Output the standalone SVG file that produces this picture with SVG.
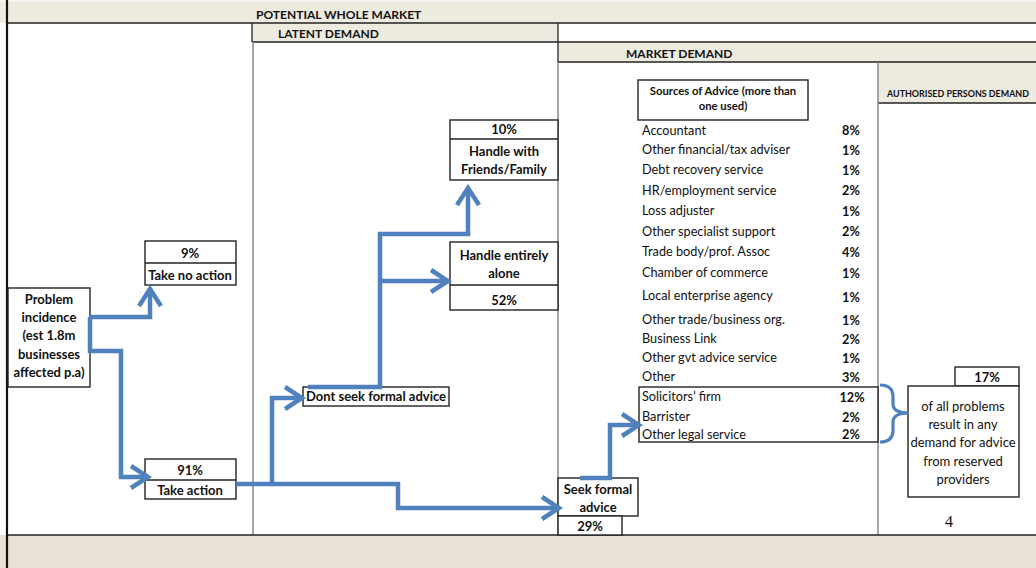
<svg xmlns="http://www.w3.org/2000/svg" width="1036" height="568" viewBox="0 0 1036 568">
<style>
.band{fill:#EDEAE0}
.grid{stroke:#222;stroke-width:1.3;fill:none}
.vg{stroke:#888;stroke-width:1.5}
.box{fill:#fff;stroke:#222;stroke-width:1.4}
.hb{font-family:Lato,"Liberation Sans",sans-serif;font-weight:bold;font-size:12px;fill:#111}
.b{font-family:Lato,"Liberation Sans",sans-serif;font-weight:bold;font-size:13px;fill:#111;text-anchor:middle}
.l{font-family:Lato,"Liberation Sans",sans-serif;font-size:12.7px;fill:#111}
.p{font-family:Lato,"Liberation Sans",sans-serif;font-weight:bold;font-size:12.7px;fill:#111;text-anchor:middle}
.c{font-family:Lato,"Liberation Sans",sans-serif;font-size:13px;fill:#111;text-anchor:middle}
.conn{fill:none;stroke:#4F81BD;stroke-width:4.5;stroke-linejoin:miter}
</style>
<defs>
<marker id="chev" viewBox="0 0 24 26" refX="21" refY="13" markerWidth="24" markerHeight="26" markerUnits="userSpaceOnUse" orient="auto">
<path d="M3,2 L20,13 L3,24" fill="none" stroke="#4F81BD" stroke-width="4.5"/>
</marker>
</defs>
<rect x="0" y="0" width="1036" height="568" fill="#fff"/>
<g id="frame">
<rect x="0" y="0" width="1036" height="23" class="band"/>
<rect x="0" y="0" width="1036" height="2" fill="#F4F3EF"/>
<rect x="252" y="23" width="306" height="19" class="band"/>
<rect x="558" y="42" width="478" height="20" class="band"/>
<rect x="878" y="62" width="158" height="41" class="band"/>
<rect x="0" y="535" width="1036" height="33" fill="#E8E1D4"/>
<line x1="7" y1="23" x2="1036" y2="23" class="grid"/>
<line x1="252" y1="42" x2="1036" y2="42" class="grid"/>
<line x1="558" y1="62" x2="1036" y2="62" class="grid"/>
<line x1="878" y1="103" x2="1036" y2="103" class="grid"/>
<line x1="252" y1="23" x2="252" y2="42" class="grid"/>
<line x1="558" y1="23" x2="558" y2="62" class="grid"/>
<line x1="253" y1="42" x2="253" y2="535" class="vg"/>
<line x1="558" y1="62" x2="558" y2="535" class="vg"/>
<line x1="878" y1="62" x2="878" y2="535" class="vg"/>
<line x1="7" y1="535" x2="1036" y2="535" class="grid" stroke-width="1.6"/>
<line x1="7" y1="0" x2="7" y2="568" stroke="#111" stroke-width="2.2"/>
<text x="256" y="19" class="hb">POTENTIAL WHOLE MARKET</text>
<text x="278" y="38" class="hb">LATENT DEMAND</text>
<text x="626" y="58" class="hb">MARKET DEMAND</text>
<text x="887" y="97" class="hb" style="font-size:8.8px" textLength="142" lengthAdjust="spacingAndGlyphs">AUTHORISED PERSONS DEMAND</text>
</g>
<g id="problem">
<rect x="8" y="288" width="82" height="99" class="box"/>
<text class="b" x="49" y="304">Problem</text>
<text class="b" x="49" y="322">incidence</text>
<text class="b" x="49" y="340">(est 1.8m</text>
<text class="b" x="49" y="359">businesses</text>
<text class="b" x="49" y="377">affected p.a)</text>
</g>
<g id="noaction">
<rect x="145" y="241" width="91" height="44" class="box"/>
<line x1="145" y1="263" x2="236" y2="263" class="grid"/>
<text class="b" x="190" y="258">9%</text>
<text class="b" x="190" y="280">Take no action</text>
</g>
<g id="takeaction">
<rect x="145" y="459" width="91" height="40" class="box"/>
<line x1="145" y1="480" x2="236" y2="480" class="grid"/>
<text class="b" x="190" y="475">91%</text>
<text class="b" x="190" y="495">Take action</text>
</g>
<g id="dontseek">
<rect x="303" y="387" width="146" height="19" class="box"/>
<text class="b" x="376" y="401">Dont seek formal advice</text>
</g>
<g id="friends">
<rect x="450" y="120" width="108" height="60" class="box"/>
<line x1="450" y1="139" x2="558" y2="139" class="grid"/>
<text class="b" x="504" y="134">10%</text>
<text class="b" x="504" y="156">Handle with</text>
<text class="b" x="504" y="174">Friends/Family</text>
</g>
<g id="alone">
<rect x="450" y="242" width="108" height="68" class="box"/>
<line x1="450" y1="285" x2="558" y2="285" class="grid"/>
<text class="b" x="504" y="260">Handle entirely</text>
<text class="b" x="504" y="278">alone</text>
<text class="b" x="504" y="305">52%</text>
</g>
<g id="seek">
<rect x="558" y="478" width="80" height="38" class="box"/>
<rect x="558" y="516" width="64" height="19" class="box"/>
<text class="b" x="598" y="494">Seek formal</text>
<text class="b" x="598" y="512">advice</text>
<text class="b" x="590" y="531">29%</text>
</g>
<g id="sources">
<rect x="638" y="80" width="170" height="40" class="box"/>
<text class="b" x="723" y="95" style="font-size:11.3px">Sources of Advice (more than</text>
<text class="b" x="723" y="110" style="font-size:11.3px">one used)</text>
<text class="l" x="642" y="135">Accountant</text><text class="p" x="851" y="135">8%</text>
<text class="l" x="642" y="154">Other financial/tax adviser</text><text class="p" x="851" y="155">1%</text>
<text class="l" x="642" y="174">Debt recovery service</text><text class="p" x="851" y="175">1%</text>
<text class="l" x="642" y="195">HR/employment service</text><text class="p" x="851" y="195">2%</text>
<text class="l" x="642" y="215">Loss adjuster</text><text class="p" x="851" y="216">1%</text>
<text class="l" x="642" y="236">Other specialist support</text><text class="p" x="851" y="236">2%</text>
<text class="l" x="642" y="256">Trade body/prof. Assoc</text><text class="p" x="851" y="257">4%</text>
<text class="l" x="642" y="277">Chamber of commerce</text><text class="p" x="851" y="278">1%</text>
<text class="l" x="642" y="300">Local enterprise agency</text><text class="p" x="851" y="302">1%</text>
<text class="l" x="642" y="324">Other trade/business org.</text><text class="p" x="851" y="325">1%</text>
<text class="l" x="642" y="343">Business Link</text><text class="p" x="851" y="344">2%</text>
<text class="l" x="642" y="362">Other gvt advice service</text><text class="p" x="851" y="363">1%</text>
<text class="l" x="642" y="381">Other</text><text class="p" x="851" y="382">3%</text>
</g>
<g id="legal">
<rect x="639" y="387" width="239" height="55" class="box"/>
<text class="l" x="642" y="401">Solicitors’ firm</text><text class="p" x="852" y="402">12%</text>
<text class="l" x="642" y="421">Barrister</text><text class="p" x="851" y="422">2%</text>
<text class="l" x="642" y="439">Other legal service</text><text class="p" x="851" y="439">2%</text>
</g>
<g id="authorised">
<rect x="955" y="367" width="64" height="19" class="box"/>
<rect x="908" y="386" width="111" height="111" class="box"/>
<text class="b" x="987" y="382">17%</text>
<text class="c" x="963" y="411">of all problems</text>
<text class="c" x="963" y="429">result in any</text>
<text class="c" x="963" y="447">demand for advice</text>
<text class="c" x="963" y="466">from reserved</text>
<text class="c" x="963" y="484">providers</text>
</g>
<g id="pagenum">
<text x="949" y="527" font-family="'Liberation Serif',serif" font-size="16px" fill="#111" text-anchor="middle">4</text>
</g>
<g id="connectors">
<path class="conn" d="M90,317 L150,317 L150,288" marker-end="url(#chev)"/>
<path class="conn" d="M90,317 L90,351 L121,351 L121,477 L149,477" marker-end="url(#chev)"/>
<path class="conn" d="M236,484 L398,484 L398,508 L560,508" marker-end="url(#chev)"/>
<path class="conn" d="M272,484 L272,398 L303,398" marker-end="url(#chev)"/>
<path class="conn" d="M308,387 L380,387 L380,234 L468,234 L468,187" marker-end="url(#chev)"/>
<path class="conn" d="M380,281 L449,281" marker-end="url(#chev)"/>
<path class="conn" d="M580,478 L610,478 L610,425 L640,425" marker-end="url(#chev)"/>
<path fill="none" stroke="#4F81BD" stroke-width="3.2" d="M880,385 Q893,385 893,397 L893,404 Q893,413 909,413 Q893,413 893,422 L893,430 Q893,442 880,442"/>
</g>
</svg>
